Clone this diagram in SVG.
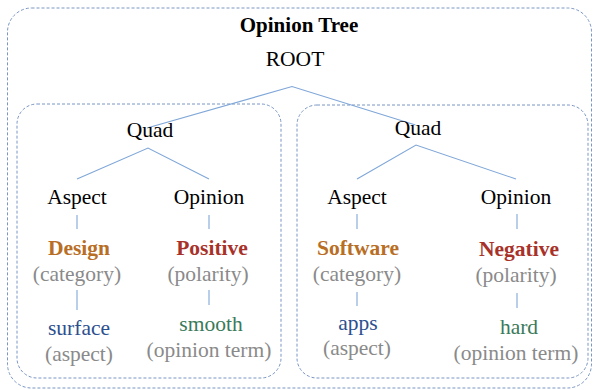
<svg xmlns="http://www.w3.org/2000/svg" width="595" height="390" viewBox="0 0 595 390">
  <style>
    text { font-family: "Liberation Serif", "Times New Roman", serif; font-size: 21.5px; text-anchor: middle; }
    .title { font-weight: bold; font-size: 21px; fill: #000; }
    .lbl { fill: #000; }
    .cat { font-weight: bold; fill: #b86e25; }
    .pol { font-weight: bold; fill: #a8322a; }
    .asp { fill: #2c4f8f; }
    .opn { fill: #3a7a5a; }
    .note { fill: #8a8a8a; }
    .frame { fill: none; stroke: #7a96c4; stroke-width: 1; stroke-dasharray: 3 2; }
    .edge { fill: none; stroke: #7fa6d8; stroke-width: 1.1; }
  </style>

  <!-- dashed frames -->
  <rect class="frame" x="7.5" y="8" width="584" height="380" rx="24"/>
  <rect class="frame" x="17" y="104" width="264" height="274" rx="20"/>
  <rect class="frame" x="297" y="105" width="291" height="273" rx="20"/>

  <!-- connectors -->
  <g id="connectors">
    <polyline class="edge" points="147,128 292,86.5 415.5,125"/>
    <polyline class="edge" points="77,179 148,148 209,179"/>
    <line class="edge" x1="77" y1="215" x2="77" y2="229"/>
    <line class="edge" x1="77" y1="290" x2="77" y2="310"/>
    <line class="edge" x1="209" y1="215" x2="209" y2="229"/>
    <line class="edge" x1="209" y1="290" x2="209" y2="305"/>
    <polyline class="edge" points="357,179 416,145 516,179"/>
    <line class="edge" x1="357" y1="214" x2="357" y2="229"/>
    <line class="edge" x1="357" y1="292" x2="357" y2="306"/>
    <line class="edge" x1="517" y1="214" x2="517" y2="229"/>
    <line class="edge" x1="517" y1="293" x2="517" y2="308"/>
  </g>

  <g id="title"><text class="title" x="299" y="32">Opinion Tree</text></g>
  <g id="root"><text class="lbl" x="295" y="66">ROOT</text></g>

  <!-- left quad -->
  <g id="quad-left"><text class="lbl" x="150" y="137">Quad</text></g>
  <g id="aspect-left"><text class="lbl" x="77" y="204">Aspect</text></g>
  <g id="opinion-left"><text class="lbl" x="209" y="204">Opinion</text></g>
  <g id="category-left">
    <text class="cat" x="79" y="255">Design</text>
    <text class="note" x="77" y="281">(category)</text>
  </g>
  <g id="polarity-left">
    <text class="pol" x="212" y="255">Positive</text>
    <text class="note" x="208" y="281">(polarity)</text>
  </g>
  <g id="aspect-term-left">
    <text class="asp" x="79" y="335">surface</text>
    <text class="note" x="79" y="361">(aspect)</text>
  </g>
  <g id="opinion-term-left">
    <text class="opn" x="211" y="331">smooth</text>
    <text class="note" x="209" y="357">(opinion term)</text>
  </g>

  <!-- right quad -->
  <g id="quad-right"><text class="lbl" x="418" y="135">Quad</text></g>
  <g id="aspect-right"><text class="lbl" x="357" y="204">Aspect</text></g>
  <g id="opinion-right"><text class="lbl" x="516" y="204">Opinion</text></g>
  <g id="category-right">
    <text class="cat" x="358" y="255">Software</text>
    <text class="note" x="357" y="281">(category)</text>
  </g>
  <g id="polarity-right">
    <text class="pol" x="519" y="256">Negative</text>
    <text class="note" x="516" y="282">(polarity)</text>
  </g>
  <g id="aspect-term-right">
    <text class="asp" x="358" y="330">apps</text>
    <text class="note" x="357" y="355">(aspect)</text>
  </g>
  <g id="opinion-term-right">
    <text class="opn" x="519" y="334">hard</text>
    <text class="note" x="516" y="360">(opinion term)</text>
  </g>
</svg>
